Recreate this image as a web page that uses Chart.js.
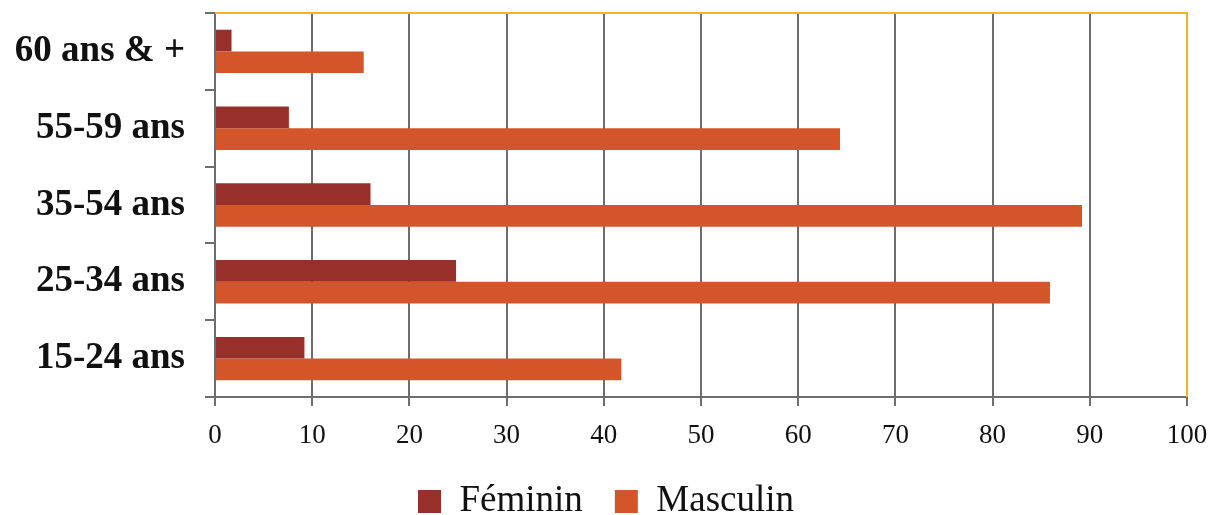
<!DOCTYPE html>
<html>
<head>
<meta charset="utf-8">
<script src="https://cdn.jsdelivr.net/npm/chart.js@4/dist/chart.umd.min.js"></script>
<style>
  html, body { margin: 0; padding: 0; background: #ffffff; }
  #wrap { width: 1212px; height: 515px; position: relative; }
</style>
</head>
<body>
<div id="wrap"><canvas id="chart" width="1212" height="515"></canvas></div>
<script>
// Age groups, top to bottom
const categories = ['60 ans & +', '55-59 ans', '35-54 ans', '25-34 ans', '15-24 ans'];
const feminin = [1.7, 7.6, 16.0, 24.8, 9.2];
const masculin = [15.3, 64.3, 89.2, 85.9, 41.8];
const xTicks = [0, 10, 20, 30, 40, 50, 60, 70, 80, 90, 100];

const GRID = '#6d6d6d';
const FRAME = '#f5b41f';
const SERIF = '"Liberation Serif", "DejaVu Serif", serif';

// Yellow frame on the top and right edges of the plot area
const framePlugin = {
  id: 'frame',
  afterDatasetsDraw(chart) {
    const { ctx, chartArea: a } = chart;
    ctx.save();
    ctx.strokeStyle = FRAME;
    ctx.lineWidth = 2;
    ctx.beginPath();
    ctx.moveTo(a.left, a.top);
    ctx.lineTo(a.right, a.top);
    ctx.lineTo(a.right, a.bottom);
    ctx.stroke();
    ctx.restore();
  }
};

new Chart(document.getElementById('chart'), {
  type: 'bar',
  data: {
    labels: categories,
    datasets: [
      { label: 'Féminin', data: feminin, backgroundColor: '#97302a', borderWidth: 0 },
      { label: 'Masculin', data: masculin, backgroundColor: '#d4552a', borderWidth: 0 }
    ]
  },
  options: {
    indexAxis: 'y',
    responsive: false,
    animation: false,
    devicePixelRatio: 1,
    layout: { padding: { top: 13, right: 0, left: 0, bottom: -15 } },
    categoryPercentage: 0.565,
    barPercentage: 1.0,
    scales: {
      x: {
        min: 0,
        max: 100,
        afterBuildTicks(scale) { scale.ticks = xTicks.map(v => ({ value: v })); },
        afterFit(scale) {
          scale.height = 54;
          scale.paddingLeft = 0;
          scale.paddingRight = 25;
        },
        ticks: {
          color: '#111111',
          font: { family: SERIF, size: 27 },
          padding: 14
        },
        grid: { color: GRID, lineWidth: 2, tickLength: 9, drawOnChartArea: true },
        border: { display: true, color: GRID, width: 2 }
      },
      y: {
        afterFit(scale) {
          scale.width = 215;
          scale.paddingTop = 0;
          scale.paddingBottom = 0;
        },
        ticks: {
          color: '#111111',
          font: { family: SERIF, size: 37, weight: 'bold' },
          padding: 20
        },
        grid: { color: GRID, lineWidth: 2, tickLength: 10, drawOnChartArea: false, offset: true },
        border: { display: true, color: GRID, width: 2 }
      }
    },
    plugins: {
      legend: {
        position: 'bottom',
        labels: {
          color: '#111111',
          font: { family: SERIF, size: 37 },
          boxWidth: 23,
          boxHeight: 23,
          padding: 32
        }
      },
      tooltip: { enabled: false },
      title: { display: false }
    }
  },
  plugins: [framePlugin]
});
</script>
</body>
</html>
